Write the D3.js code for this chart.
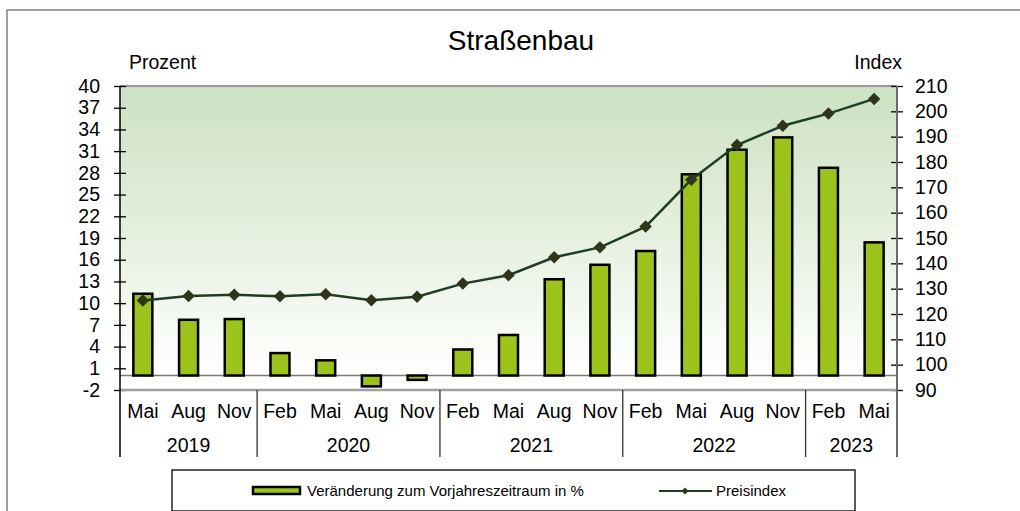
<!DOCTYPE html>
<html>
<head>
<meta charset="utf-8">
<script src="https://cdn.jsdelivr.net/npm/d3@7"></script>
<style>
  body { margin: 0; background: #fff; }
  svg { font-family: "Liberation Sans", Arial, sans-serif; display: block; }
</style>
</head>
<body>
<div id="container"></div>
<script>
const months = ["Mai", "Aug", "Nov", "Feb", "Mai", "Aug", "Nov", "Feb", "Mai", "Aug", "Nov", "Feb", "Mai", "Aug", "Nov", "Feb", "Mai"]
const years = ["2019", "2020", "2021", "2022", "2023"]
const yearCounts = [3, 4, 4, 4, 2]
const change = [11.3, 7.7, 7.8, 3.1, 2.1, -1.5, -0.6, 3.6, 5.6, 13.3, 15.3, 17.2, 27.8, 31.2, 32.9, 28.7, 18.4]
const index = [125.3, 127.1, 127.6, 127.0, 127.8, 125.4, 126.8, 132.0, 135.3, 142.4, 146.3, 154.5, 173.0, 186.7, 194.3, 199.1, 204.9]
const leftTicks = [-2, 1, 4, 7, 10, 13, 16, 19, 22, 25, 28, 31, 34, 37, 40]
const rightTicks = [90, 100, 110, 120, 130, 140, 150, 160, 170, 180, 190, 200, 210]

const w = 1020
const h = 511
const pLeft = 120, pRight = 897, pTop = 86, pBottom = 390

const keys = months.map((m, i) => i)

const xScale = d3.scaleBand()
    .domain(keys)
    .range([pLeft, pRight])
const yScale = d3.scaleLinear()
    .domain([-2, 40])
    .range([pBottom, pTop])
const y2Scale = d3.scaleLinear()
    .domain([90, 210])
    .range([pBottom, pTop])

const svg = d3.select("#container")
    .append("svg")
    .attr("width", w)
    .attr("height", h)

// outer frame
svg.append("rect")
    .attr("x", 7).attr("y", 10)
    .attr("width", w).attr("height", h)
    .attr("fill", "none")
    .attr("stroke", "#808080")
    .attr("stroke-width", 1.5)

// plot background gradient
const grad = svg.append("defs").append("linearGradient")
    .attr("id", "bg").attr("x1", 0).attr("y1", 0).attr("x2", 0).attr("y2", 1)
grad.append("stop").attr("offset", "0%").attr("stop-color", "#cce1c2")
grad.append("stop").attr("offset", "50%").attr("stop-color", "#e6f0e0")
grad.append("stop").attr("offset", "95%").attr("stop-color", "#ffffff")

svg.append("rect")
    .attr("x", pLeft).attr("y", pTop)
    .attr("width", pRight - pLeft).attr("height", pBottom - pTop)
    .attr("fill", "url(#bg)")

// plot top border
svg.append("line")
    .attr("x1", pLeft).attr("x2", pRight)
    .attr("y1", pTop).attr("y2", pTop)
    .attr("stroke", "#9a9a9a").attr("stroke-width", 2)

// title
svg.append("text")
    .attr("x", 521).attr("y", 50)
    .attr("text-anchor", "middle")
    .attr("font-size", 28)
    .text("Straßenbau")

svg.append("text")
    .attr("x", 129).attr("y", 69)
    .attr("font-size", 19.5)
    .text("Prozent")

svg.append("text")
    .attr("x", 902).attr("y", 69)
    .attr("text-anchor", "end")
    .attr("font-size", 19.5)
    .text("Index")

// zero line
svg.append("line")
    .attr("x1", pLeft).attr("x2", pRight)
    .attr("y1", yScale(0)).attr("y2", yScale(0))
    .attr("stroke", "#7a7a7a").attr("stroke-width", 1.5)

// bars
const barW = 19
svg.selectAll("rect.bar")
    .data(change)
    .enter()
    .append("rect")
    .attr("class", "bar")
    .attr("x", (d, i) => xScale(i) + xScale.bandwidth() / 2 - barW / 2)
    .attr("y", d => yScale(Math.max(d, 0)))
    .attr("width", barW)
    .attr("height", d => Math.abs(yScale(d) - yScale(0)))
    .attr("fill", "#9bc31c")
    .attr("stroke", "#000")
    .attr("stroke-width", 2.5)

// line
const line = d3.line()
    .x((d, i) => xScale(i) + xScale.bandwidth() / 2)
    .y(d => y2Scale(d))

svg.append("path")
    .datum(index)
    .attr("d", line)
    .attr("fill", "none")
    .attr("stroke", "#1f3d25")
    .attr("stroke-width", 2.5)

const diamond = d3.symbol().type(d3.symbolSquare).size(78)
svg.selectAll("path.marker")
    .data(index)
    .enter()
    .append("path")
    .attr("class", "marker")
    .attr("d", diamond)
    .attr("transform", (d, i) => `translate(${xScale(i) + xScale.bandwidth() / 2},${y2Scale(d)}) rotate(45)`)
    .attr("fill", "#2f341a")

// left axis
svg.append("g")
    .attr("transform", `translate(${pLeft},0)`)
    .call(d3.axisLeft(yScale).tickValues(leftTicks).tickFormat(d => String(d)).tickSize(6).tickPadding(14).tickSizeOuter(0))
    .call(g => g.select(".domain").remove())
    .call(g => g.selectAll(".tick line").attr("x1", -6).attr("x2", 6).attr("stroke", "#000").attr("stroke-width", 1.3))
    .call(g => g.selectAll("text").attr("font-size", 19.5).attr("font-family", "Liberation Sans, Arial, sans-serif").attr("fill", "#000"))

// right axis
svg.append("g")
    .attr("transform", `translate(${pRight},0)`)
    .call(d3.axisRight(y2Scale).tickValues(rightTicks).tickFormat(d => String(d)).tickSize(6).tickPadding(12).tickSizeOuter(0))
    .call(g => g.select(".domain").remove())
    .call(g => g.selectAll(".tick line").attr("x1", -6).attr("x2", 6).attr("stroke", "#000").attr("stroke-width", 1.3))
    .call(g => g.selectAll("text").attr("font-size", 19.5).attr("font-family", "Liberation Sans, Arial, sans-serif").attr("fill", "#000"))

// x axis
svg.append("line")
    .attr("x1", pLeft).attr("x2", pRight)
    .attr("y1", pBottom).attr("y2", pBottom)
    .attr("stroke", "#a0a0a0").attr("stroke-width", 2.5)

svg.selectAll("text.month")
    .data(months)
    .enter()
    .append("text")
    .attr("class", "month")
    .attr("x", (d, i) => xScale(i) + xScale.bandwidth() / 2)
    .attr("y", 418)
    .attr("text-anchor", "middle")
    .attr("font-size", 19.5)
    .text(d => d)

// year groups
let start = 0
const groups = years.map((y, j) => {
    const g = { year: y, from: start, to: start + yearCounts[j] - 1 }
    start += yearCounts[j]
    return g
})

svg.selectAll("text.year")
    .data(groups)
    .enter()
    .append("text")
    .attr("class", "year")
    .attr("x", d => (xScale(d.from) + xScale(d.to) + xScale.bandwidth()) / 2)
    .attr("y", 452)
    .attr("text-anchor", "middle")
    .attr("font-size", 19.5)
    .text(d => d.year)

svg.selectAll("line.sep")
    .data(groups.slice(1))
    .enter()
    .append("line")
    .attr("class", "sep")
    .attr("x1", d => xScale(d.from)).attr("x2", d => xScale(d.from))
    .attr("y1", pBottom).attr("y2", 457)
    .attr("stroke", "#303030").attr("stroke-width", 1.3)

// axis lines
svg.append("line")
    .attr("x1", pLeft).attr("x2", pLeft)
    .attr("y1", pTop).attr("y2", 457)
    .attr("stroke", "#000").attr("stroke-width", 1.5)
svg.append("line")
    .attr("x1", pRight).attr("x2", pRight)
    .attr("y1", pTop).attr("y2", 457)
    .attr("stroke", "#6a6a6a").attr("stroke-width", 2)

// legend
svg.append("rect")
    .attr("x", 172).attr("y", 470)
    .attr("width", 683).attr("height", 41)
    .attr("fill", "#fff")
    .attr("stroke", "#000").attr("stroke-width", 1.3)

svg.append("rect")
    .attr("x", 253).attr("y", 487)
    .attr("width", 47).attr("height", 7)
    .attr("fill", "#9bc31c")
    .attr("stroke", "#000").attr("stroke-width", 2.5)
svg.append("text")
    .attr("x", 307).attr("y", 496)
    .attr("font-size", 15)
    .text("Veränderung zum Vorjahreszeitraum in %")

svg.append("line")
    .attr("x1", 659).attr("x2", 712)
    .attr("y1", 491).attr("y2", 491)
    .attr("stroke", "#1f3d25").attr("stroke-width", 2)
svg.append("path")
    .attr("d", d3.symbol().type(d3.symbolSquare).size(26))
    .attr("transform", "translate(685,491) rotate(45)")
    .attr("fill", "#2f341a")
svg.append("text")
    .attr("x", 716).attr("y", 496)
    .attr("font-size", 15)
    .text("Preisindex")
</script>
</body>
</html>
